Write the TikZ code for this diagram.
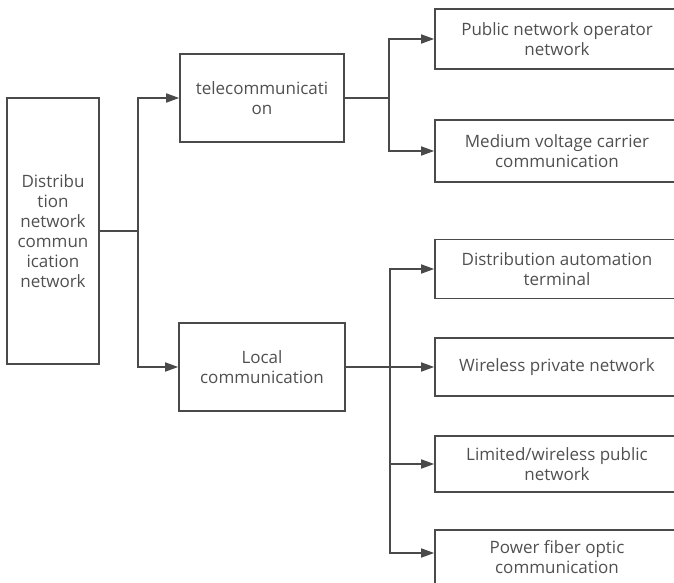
\documentclass[tikz,border=0pt]{standalone}
\usepackage{fontspec}
\setmainfont{Open Sans}
\usetikzlibrary{arrows.meta}
\definecolor{linegray}{HTML}{4A4A4A}
\definecolor{textgray}{HTML}{505050}
\tikzset{
  box/.style={draw=linegray, line width=1.6pt, align=center, inner sep=0pt,
    text=textgray, font=\fontsize{17}{20}\selectfont},
  arr/.style={draw=linegray, line width=1.6pt, -{Triangle[length=13pt,width=9pt]}},
  ln/.style={draw=linegray, line width=1.6pt}
}
\begin{document}
\begin{tikzpicture}[x=1pt,y=-1pt]
\clip (0,0) rectangle (674,583);

\node[box, minimum width=92pt, minimum height=266pt] (root) at (53,231) {Distribu\\tion\\network\\commun\\ication\\network};
\node[box, minimum width=164pt, minimum height=88pt] (tele) at (262,98) {telecommunicati\\on};
\node[box, minimum width=166pt, minimum height=88pt] (local) at (262,367) {Local\\communication};

\node[box, minimum width=244pt, minimum height=60pt] (pub) at (557,39) {Public network operator\\network};
\node[box, minimum width=244pt, minimum height=62pt] (med) at (557,151) {Medium voltage carrier\\communication};

\node[box, minimum width=244pt, minimum height=59pt] (auto) at (557,269) {Distribution automation\\terminal};
\node[box, minimum width=244pt, minimum height=58pt] (wless) at (557,367) {Wireless private network};
\node[box, minimum width=244pt, minimum height=56pt] (limit) at (557,464) {Limited/wireless public\\network};
\node[box, minimum width=244pt, minimum height=54pt] (fiber) at (557,557) {Power fiber optic\\communication};

\coordinate (s1) at (138,231);
\coordinate (s2) at (389,98);
\coordinate (s3) at (390,367);

\draw[ln] (root.east) -- (s1);
\draw[arr] (s1) |- (tele.west);
\draw[arr] (s1) |- (local.west);

\draw[ln] (tele.east) -- (s2);
\draw[arr] (s2) |- (pub.west);
\draw[arr] (s2) |- (med.west);

\draw[ln] (local.east) -- (s3);
\draw[arr] (s3) |- (auto.west);
\draw[arr] (s3) -- (wless.west);
\draw[arr] (s3) |- (limit.west);
\draw[arr] (s3) |- ([yshift=4pt]fiber.west);
\end{tikzpicture}
\end{document}
